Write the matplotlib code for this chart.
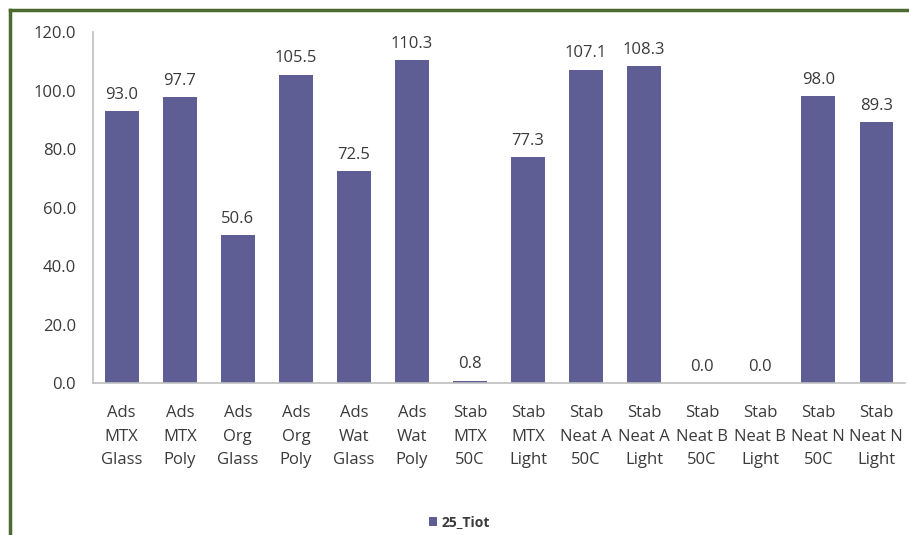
import matplotlib
matplotlib.use('Agg')
import matplotlib.pyplot as plt
from matplotlib.lines import Line2D
import numpy as np

plt.rcParams['font.family'] = ['Open Sans', 'DejaVu Sans']

categories = [
    'Ads\nMTX\nGlass', 'Ads\nMTX\nPoly', 'Ads\nOrg\nGlass', 'Ads\nOrg\nPoly',
    'Ads\nWat\nGlass', 'Ads\nWat\nPoly', 'Stab\nMTX\n50C', 'Stab\nMTX\nLight',
    'Stab\nNeat A\n50C', 'Stab\nNeat A\nLight', 'Stab\nNeat B\n50C',
    'Stab\nNeat B\nLight', 'Stab\nNeat N\n50C', 'Stab\nNeat N\nLight',
]
values = [93.0, 97.7, 50.6, 105.5, 72.5, 110.3, 0.8, 77.3, 107.1, 108.3,
          0.0, 0.0, 98.0, 89.3]
yticks = [0, 20, 40, 60, 80, 100, 120]
series_name = '25_Tiot'

bar_color = '#5f5e94'
text_color = '#3a3a3a'
axis_color = '#bfbfbf'
frame_color = '#4b6a2f'

fig = plt.figure(figsize=(9.09, 5.35), dpi=100)
ax = fig.add_axes([0.102, 0.284, 0.894, 0.656])

x = np.arange(len(categories))
bars = ax.bar(x, values, width=0.58, color=bar_color, label=series_name)

for xi, v in zip(x, values):
    ax.annotate(f'{v:.1f}', (xi, v), xytext=(0, 6), textcoords='offset points',
                ha='center', va='bottom', fontsize=12, color=text_color)

ax.set_xlim(-0.5, len(categories) - 0.5)
ax.set_ylim(0, 120)
ax.set_yticks(yticks)
ax.set_yticklabels([f'{t:.1f}' for t in yticks])
ax.set_xticks(x)
ax.set_xticklabels(categories, linespacing=1.62)
ax.tick_params(axis='y', length=0, pad=12, labelsize=12, labelcolor=text_color)
ax.tick_params(axis='x', length=0, pad=16, labelsize=12, labelcolor=text_color)

for side in ['top', 'right']:
    ax.spines[side].set_visible(False)
for side in ['left', 'bottom']:
    ax.spines[side].set_color(axis_color)
    ax.spines[side].set_linewidth(1.2)

leg = fig.legend(handles=[bars], labels=[series_name], loc='center',
                 bbox_to_anchor=(0.505, 0.024), frameon=False,
                 handlelength=0.6, handleheight=0.6, handletextpad=0.3,
                 prop={'size': 10, 'weight': 'bold'})
for t in leg.get_texts():
    t.set_color(text_color)

# dark green frame along the top and left edge
fig.add_artist(Line2D([9.5 / 909, 9.5 / 909], [0, 1 - 9.5 / 535],
                      transform=fig.transFigure, color=frame_color, lw=2.5))
fig.add_artist(Line2D([9.5 / 909, 1], [1 - 9.5 / 535, 1 - 9.5 / 535],
                      transform=fig.transFigure, color=frame_color, lw=2.5))

fig.savefig('out.png', dpi=100)
